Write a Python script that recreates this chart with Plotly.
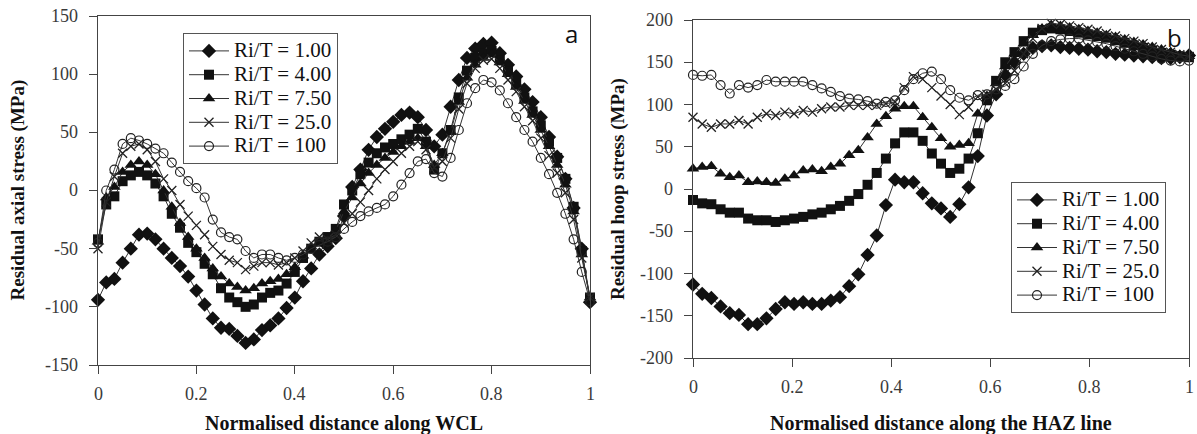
import plotly.graph_objects as go

# ---------------- data ----------------
series_names = ["Ri/T = 1.00", "Ri/T = 4.00", "Ri/T = 7.50", "Ri/T = 25.0", "Ri/T = 100"]

x_wcl = [0, 0.0167, 0.0333, 0.05, 0.0667, 0.0833, 0.1, 0.1167, 0.1333, 0.15, 0.1667, 0.1833,
         0.2, 0.2167, 0.2333, 0.25, 0.2667, 0.2833, 0.3, 0.3167, 0.3333, 0.35, 0.3667, 0.3833,
         0.4, 0.4167, 0.4333, 0.45, 0.4667, 0.4833, 0.5, 0.5167, 0.5333, 0.55, 0.5667, 0.5833,
         0.6, 0.6167, 0.6333, 0.65, 0.6667, 0.6833, 0.7, 0.7167, 0.7333, 0.75, 0.7667, 0.7833,
         0.8, 0.8167, 0.8333, 0.85, 0.8667, 0.8833, 0.9, 0.9167, 0.9333, 0.95, 0.9667, 0.9833, 1.0]

axial_100 = [-94, -79, -76, -62, -50, -38, -37, -42, -50, -58, -65, -74, -86, -98, -110, -118,
             -119, -125, -131, -128, -120, -116, -110, -101, -92, -78, -67, -55, -48, -41, -22,
             3, 18, 35, 46, 53, 59, 65, 67, 63, 52, 38, 48, 72, 95, 114, 122, 126, 127, 118, 108,
             98, 87, 76, 63, 46, 29, 10, -15, -50, -96]
axial_400 = [-42, -12, -5, 8, 13, 16, 13, 6, -5, -20, -32, -45, -53, -63, -72, -84, -92, -96,
             -100, -98, -92, -88, -86, -80, -70, -58, -50, -44, -40, -33, -12, 0, 14, 24, 32, 37,
             40, 44, 48, 53, 42, 18, 32, 52, 80, 103, 114, 118, 120, 112, 102, 92, 80, 68, 56,
             42, 28, 10, -14, -52, -92]
axial_750 = [-44, -6, 3, 16, 22, 25, 22, 14, 0, -14, -28, -40, -50, -58, -67, -74, -80, -83,
             -86, -84, -80, -78, -76, -72, -66, -56, -50, -45, -41, -34, -18, -6, 6, 15, 22, 28,
             33, 38, 42, 45, 38, 22, 32, 50, 76, 97, 108, 114, 117, 110, 100, 89, 77, 65, 52, 38,
             22, 5, -18, -55, -92]
axial_2500 = [-50, -10, 12, 32, 38, 40, 35, 25, 10, 0, -12, -22, -30, -38, -48, -55, -60, -62,
              -68, -65, -62, -62, -64, -62, -58, -52, -45, -40, -42, -38, -28, -20, -10, 0, 10,
              18, 25, 32, 38, 42, 35, 20, 25, 45, 70, 92, 105, 112, 113, 105, 95, 85, 72, 60, 45,
              30, 15, -2, -25, -58, -92]
axial_10000 = [-45, 0, 18, 40, 45, 43, 40, 36, 32, 24, 16, 8, 2, -6, -25, -36, -40, -42, -52,
               -58, -55, -55, -58, -60, -58, -55, -50, -47, -44, -40, -33, -27, -22, -18, -15,
               -12, -5, 5, 15, 25, 27, 15, 12, 28, 52, 75, 88, 95, 93, 86, 75, 63, 52, 42, 28,
               14, -2, -20, -42, -70, -95]

x_haz = [0, 0.0185, 0.037, 0.0556, 0.0741, 0.0926, 0.1111, 0.1296, 0.1481, 0.1667, 0.1852,
         0.2037, 0.2222, 0.2407, 0.2593, 0.2778, 0.2963, 0.3148, 0.3333, 0.3519, 0.3704, 0.3889,
         0.4074, 0.4259, 0.4444, 0.463, 0.4815, 0.5, 0.5185, 0.537, 0.5556, 0.5741, 0.5926,
         0.6111, 0.6296, 0.6481, 0.6667, 0.6852, 0.7037, 0.7222, 0.7407, 0.7593, 0.7778, 0.7963,
         0.8148, 0.8333, 0.8519, 0.8704, 0.8889, 0.9074, 0.9259, 0.9444, 0.963, 0.9815, 1.0]

hoop_100 = [-113, -124, -129, -139, -147, -149, -160, -160, -153, -142, -134, -136, -134, -136,
            -136, -132, -128, -115, -101, -78, -55, -19, 11, 8, 8, -5, -17, -23, -33, -18, 2,
            39, 87, 112, 135, 150, 160, 167, 169, 170, 168, 167, 166, 165, 163, 162, 160, 159,
            158, 157, 156, 155, 155, 156, 158]
hoop_400 = [-13, -17, -18, -24, -28, -28, -35, -37, -37, -39, -37, -35, -33, -30, -28, -24, -20,
            -14, -6, 5, 19, 36, 54, 67, 67, 57, 42, 30, 19, 24, 36, 66, 105, 128, 150, 162, 175,
            185, 188, 190, 189, 187, 185, 183, 181, 179, 176, 173, 170, 167, 164, 161, 159, 157,
            156]
hoop_750 = [24, 26, 27, 18, 14, 16, 8, 9, 8, 7, 12, 16, 22, 23, 21, 26, 30, 40, 46, 61, 77, 86,
            95, 98, 98, 85, 73, 60, 50, 52, 54, 89, 110, 125, 145, 160, 172, 182, 190, 194, 193,
            191, 189, 187, 185, 182, 180, 177, 174, 171, 168, 165, 162, 159, 157]
hoop_2500 = [85, 77, 73, 77, 77, 81, 77, 85, 89, 87, 91, 89, 93, 91, 95, 97, 97, 99, 99, 99, 99,
             101, 103, 120, 133, 130, 120, 110, 100, 88, 97, 109, 112, 118, 125, 140, 160, 178,
             190, 196, 195, 193, 191, 189, 187, 184, 181, 178, 175, 172, 168, 165, 162, 159, 157]
hoop_10000 = [135, 134, 135, 123, 113, 123, 120, 123, 129, 127, 127, 127, 127, 123, 119, 115,
              110, 107, 106, 104, 101, 103, 105, 117, 130, 137, 139, 130, 117, 108, 105, 111, 112,
              118, 122, 130, 145, 160, 170, 175, 177, 178, 178, 176, 174, 172, 169, 166, 163, 160,
              157, 154, 152, 151, 152]

x_ticks = [0, 0.2, 0.4, 0.6, 0.8, 1]
x_tick_text = ["0", "0.2", "0.4", "0.6", "0.8", "1"]
axial_ticks = [-150, -100, -50, 0, 50, 100, 150]
hoop_ticks = [-200, -150, -100, -50, 0, 50, 100, 150, 200]

# ---------------- style ----------------
W, H = 1197, 434
SERIF = "Liberation Serif"
markers = [
    dict(symbol="diamond", size=11, color="#111111"),
    dict(symbol="square", size=10, color="#111111"),
    dict(symbol="triangle-up", size=11, color="#111111"),
    dict(symbol="x-thin", size=9, color="#222222", line=dict(width=1.3, color="#222222")),
    dict(symbol="circle-open", size=9, color="#222222", line=dict(width=1.2)),
]

def legend_label(s):
    return '<span style="font-size:21px">' + s + '</span>'

fig = go.Figure()
axial = [axial_100, axial_400, axial_750, axial_2500, axial_10000]
hoop = [hoop_100, hoop_400, hoop_750, hoop_2500, hoop_10000]

for name, ys, mk in zip(series_names, axial, markers):
    fig.add_trace(go.Scatter(x=x_wcl, y=ys, mode="lines+markers", name=legend_label(name),
                             line=dict(color="#333333", width=1), marker=mk,
                             cliponaxis=False, xaxis="x", yaxis="y", legend="legend"))
for name, ys, mk in zip(series_names, hoop, markers):
    fig.add_trace(go.Scatter(x=x_haz, y=ys, mode="lines+markers", name=legend_label(name),
                             line=dict(color="#333333", width=1), marker=mk,
                             cliponaxis=False, xaxis="x2", yaxis="y2", legend="legend2"))

def px_x(p):
    return p / W

def px_y(p):
    return 1 - p / H

tick_font = dict(family=SERIF, size=18, color="#3a3a3a")
axis_common = dict(showline=True, linecolor="#444444", linewidth=1, mirror=True,
                   ticks="outside", ticklen=8, tickcolor="#444444", showgrid=False,
                   zeroline=False, showticklabels=False)

L = dict(x0=98, x1=590, top=16, bottom=365)
R = dict(x0=693, x1=1189, top=20, bottom=358)

legend_common = dict(xanchor="left", yanchor="top", bordercolor="#555555", borderwidth=1,
                     bgcolor="white", font=dict(family=SERIF, size=16, color="#111111"),
                     itemwidth=40, tracegroupgap=0)

fig.update_layout(
    width=W, height=H, margin=dict(l=0, r=0, t=0, b=0),
    paper_bgcolor="white", plot_bgcolor="white",
    font=dict(family=SERIF, size=18, color="#111111"),
    xaxis=dict(domain=[px_x(L["x0"]), px_x(L["x1"])], range=[0, 1], tickvals=x_ticks,
               anchor="y", **axis_common),
    yaxis=dict(domain=[px_y(L["bottom"]), px_y(L["top"])], range=[-150, 150],
               tickvals=axial_ticks, anchor="x", **axis_common),
    xaxis2=dict(domain=[px_x(R["x0"]), px_x(R["x1"])], range=[0, 1], tickvals=x_ticks,
                anchor="y2", **axis_common),
    yaxis2=dict(domain=[px_y(R["bottom"]), px_y(R["top"])], range=[-200, 200],
                tickvals=hoop_ticks, anchor="x2", **axis_common),
    legend=dict(x=px_x(183), y=px_y(33), **legend_common),
    legend2=dict(x=px_x(1011), y=px_y(182), **legend_common),
    showlegend=True,
)

# tick labels (serif), placed through the axes' own scales
for xref, panel in (("x", L), ("x2", R)):
    for v, t in zip(x_ticks, x_tick_text):
        fig.add_annotation(text=t, xref=xref, yref="paper", x=v, y=px_y(panel["bottom"] + 29),
                           xanchor="center", yanchor="middle", showarrow=False, font=tick_font)
for yref, panel, ticks in (("y", L, axial_ticks), ("y2", R, hoop_ticks)):
    for v in ticks:
        fig.add_annotation(text=str(v), xref="paper", yref=yref, x=px_x(panel["x0"] - 18), y=v,
                           xanchor="right", yanchor="middle", showarrow=False, font=tick_font)

ytitle_font = dict(family=SERIF, size=19, color="#111111")
xtitle_font = dict(family=SERIF, size=20, color="#111111")
annotations = [
    dict(text="<b>Residual axial stress (MPa)</b>", x=px_x(18), y=px_y((L["top"] + L["bottom"]) / 2),
         textangle=-90, font=ytitle_font),
    dict(text="<b>Normalised distance along WCL</b>", x=px_x((L["x0"] + L["x1"]) / 2), y=px_y(423),
         font=xtitle_font),
    dict(text="<b>Residual hoop stress (MPa)</b>", x=px_x(618), y=px_y((R["top"] + R["bottom"]) / 2),
         textangle=-90, font=ytitle_font),
    dict(text="<b>Normalised distance along the HAZ line</b>", x=px_x((R["x0"] + R["x1"]) / 2),
         y=px_y(423), font=xtitle_font),
]
for a in annotations:
    fig.add_annotation(xref="paper", yref="paper", showarrow=False,
                       xanchor="center", yanchor="middle", **a)

fig.add_annotation(text="a", xref="paper", yref="paper", x=px_x(571), y=px_y(33), showarrow=False,
                   font=dict(family="Open Sans", size=24, color="#111111"),
                   xanchor="center", yanchor="middle")
fig.add_annotation(text="b", xref="paper", yref="paper", x=px_x(1174), y=px_y(38), showarrow=False,
                   font=dict(family="Open Sans", size=24, color="#111111"),
                   xanchor="center", yanchor="middle")

fig.write_html("out.html")
